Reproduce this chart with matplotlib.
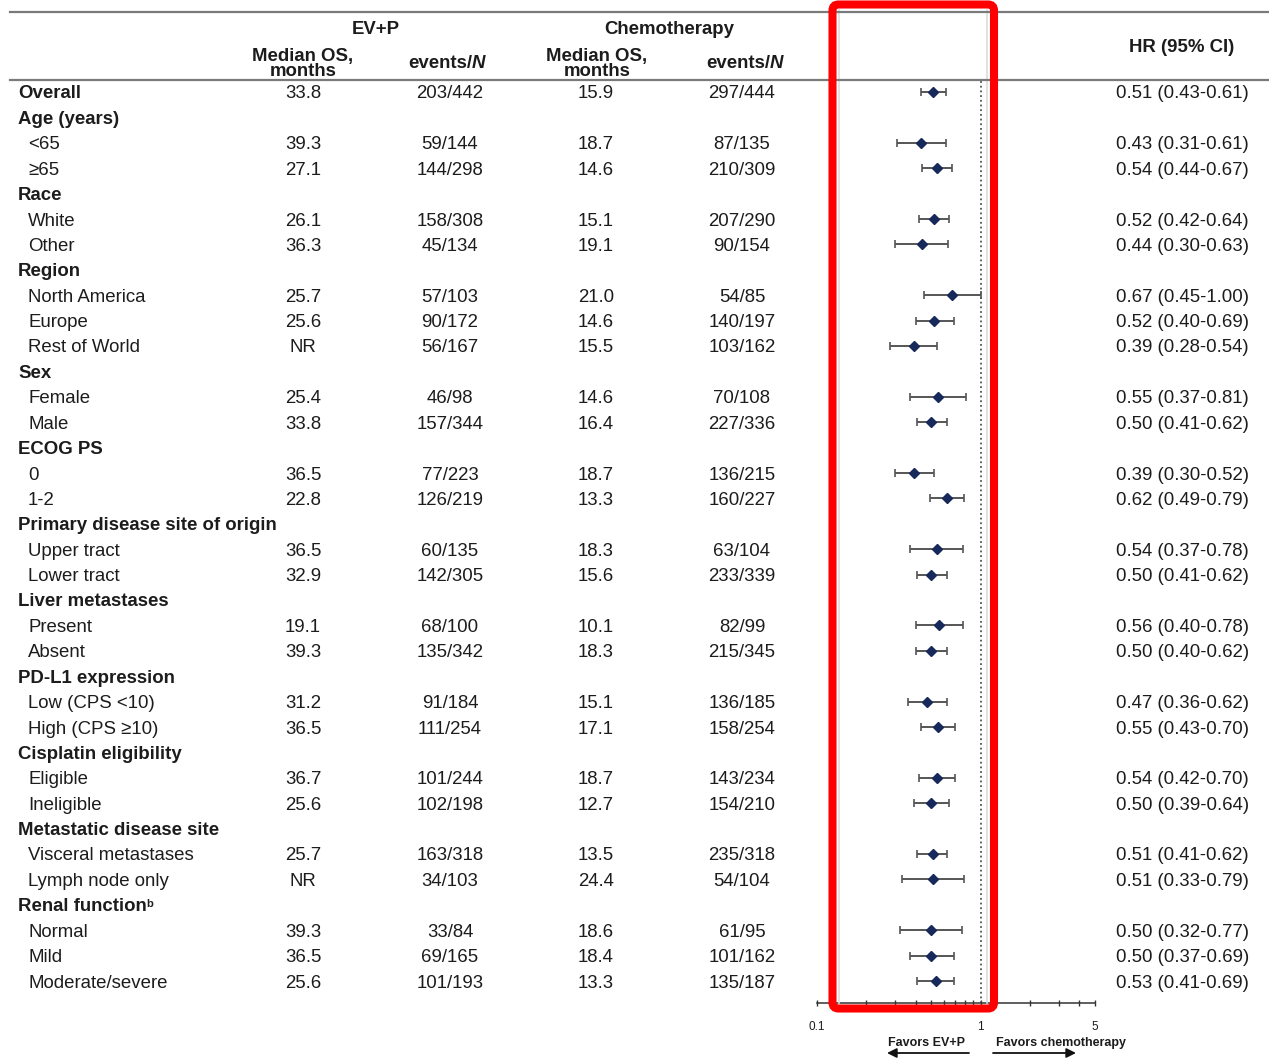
import matplotlib
import matplotlib.pyplot as plt
from matplotlib import ticker
from matplotlib.patches import FancyBboxPatch

matplotlib.use("Agg")

plt.rcParams["font.family"] = ["Liberation Sans", "DejaVu Sans"]

# subgroup rows, top to bottom
labels = [
    "Overall", "Age (years)", "<65", "≥65", "Race", "White", "Other",
    "Region", "North America", "Europe", "Rest of World", "Sex", "Female", "Male",
    "ECOG PS", "0", "1-2", "Primary disease site of origin", "Upper tract", "Lower tract",
    "Liver metastases", "Present", "Absent", "PD-L1 expression", "Low (CPS <10)",
    "High (CPS ≥10)", "Cisplatin eligibility", "Eligible", "Ineligible",
    "Metastatic disease site", "Visceral metastases", "Lymph node only",
    "Renal function", "Normal", "Mild", "Moderate/severe",
]
bold_rows = [0, 1, 4, 7, 11, 14, 17, 20, 23, 26, 29, 32]

evp_median = [
    "33.8", "", "39.3", "27.1", "", "26.1", "36.3", "", "25.7", "25.6", "NR", "",
    "25.4", "33.8", "", "36.5", "22.8", "", "36.5", "32.9", "", "19.1", "39.3", "",
    "31.2", "36.5", "", "36.7", "25.6", "", "25.7", "NR", "", "39.3", "36.5", "25.6",
]
evp_events = [
    "203/442", "", "59/144", "144/298", "", "158/308", "45/134", "", "57/103",
    "90/172", "56/167", "", "46/98", "157/344", "", "77/223", "126/219", "",
    "60/135", "142/305", "", "68/100", "135/342", "", "91/184", "111/254", "",
    "101/244", "102/198", "", "163/318", "34/103", "", "33/84", "69/165", "101/193",
]
chemo_median = [
    "15.9", "", "18.7", "14.6", "", "15.1", "19.1", "", "21.0", "14.6", "15.5", "",
    "14.6", "16.4", "", "18.7", "13.3", "", "18.3", "15.6", "", "10.1", "18.3", "",
    "15.1", "17.1", "", "18.7", "12.7", "", "13.5", "24.4", "", "18.6", "18.4", "13.3",
]
chemo_events = [
    "297/444", "", "87/135", "210/309", "", "207/290", "90/154", "", "54/85",
    "140/197", "103/162", "", "70/108", "227/336", "", "136/215", "160/227", "",
    "63/104", "233/339", "", "82/99", "215/345", "", "136/185", "158/254", "",
    "143/234", "154/210", "", "235/318", "54/104", "", "61/95", "101/162", "135/187",
]
hr = [
    0.51, None, 0.43, 0.54, None, 0.52, 0.44, None, 0.67, 0.52, 0.39, None,
    0.55, 0.50, None, 0.39, 0.62, None, 0.54, 0.50, None, 0.56, 0.50, None,
    0.47, 0.55, None, 0.54, 0.50, None, 0.51, 0.51, None, 0.50, 0.50, 0.53,
]
hr_lo = [
    0.43, None, 0.31, 0.44, None, 0.42, 0.30, None, 0.45, 0.40, 0.28, None,
    0.37, 0.41, None, 0.30, 0.49, None, 0.37, 0.41, None, 0.40, 0.40, None,
    0.36, 0.43, None, 0.42, 0.39, None, 0.41, 0.33, None, 0.32, 0.37, 0.41,
]
hr_hi = [
    0.61, None, 0.61, 0.67, None, 0.64, 0.63, None, 1.00, 0.69, 0.54, None,
    0.81, 0.62, None, 0.52, 0.79, None, 0.78, 0.62, None, 0.78, 0.62, None,
    0.62, 0.70, None, 0.70, 0.64, None, 0.62, 0.79, None, 0.77, 0.69, 0.69,
]

W, H = 1269, 1060
TXT = "#1c1c1c"
FS = 13.4

fig = plt.figure(figsize=(W / 100, H / 100), dpi=100)

# table layer in pixel coordinates
ax = fig.add_axes([0, 0, 1, 1])
ax.set_xlim(0, W)
ax.set_ylim(H, 0)
ax.axis("off")
ax.set_zorder(2)
ax.patch.set_visible(False)

row_y = [92 + 25.4 * i for i in range(len(labels))]
DY = 2  # text sits a touch lower than the marker row centre

# header
ax.plot([10, W], [12, 12], color="#7a7a7a", lw=1.6)
ax.plot([10, W], [80, 80], color="#7a7a7a", lw=1.6)
hdr = dict(fontsize=FS, fontweight="bold", color=TXT, va="center")
ax.text(376, 30, "EV+P", ha="center", **hdr)
ax.text(669, 30, "Chemotherapy", ha="center", **hdr)
for cx in (303, 597):
    ax.text(cx, 56, "Median OS,", ha="center", **hdr)
    ax.text(cx, 72, "months", ha="center", **hdr)
for split in (472, 770):
    ax.text(split, 63, "events/", ha="right", **hdr)
    ax.text(split, 63, "N", ha="left", fontstyle="italic", **hdr)
ax.text(1182, 48, "HR (95% CI)", ha="center", **hdr)

# rows
for i, y in enumerate(row_y):
    y = y + DY
    bold = i in bold_rows
    t = ax.text(18 if bold else 28, y, labels[i], ha="left", va="center",
                fontsize=FS, color=TXT, fontweight="bold" if bold else "normal")
    if labels[i] == "Renal function":
        ax.annotate("b", xy=(1, 0.95), xycoords=t, ha="left", va="top",
                    fontsize=8, fontweight="bold", color=TXT)
    ax.text(303, y, evp_median[i], ha="center", va="center", fontsize=FS, color=TXT)
    ax.text(450, y, evp_events[i], ha="center", va="center", fontsize=FS, color=TXT)
    ax.text(596, y, chemo_median[i], ha="center", va="center", fontsize=FS, color=TXT)
    ax.text(742, y, chemo_events[i], ha="center", va="center", fontsize=FS, color=TXT)
    if hr[i] is not None:
        ax.text(1249, y, f"{hr[i]:.2f} ({hr_lo[i]:.2f}-{hr_hi[i]:.2f})",
                ha="right", va="center", fontsize=FS, color=TXT)

# forest panel: 0.1 -> 817 px, 5 -> 1095 px, from the header rule down to y=1003
fx = fig.add_axes([817 / W, 1 - 1003 / H, (1095 - 817) / W, (1003 - 80) / H])
fx.set_zorder(1)
fx.set_xscale("log")
fx.set_xlim(0.1, 5)
fx.set_ylim(1003, 80)
for side in ("top", "left", "right"):
    fx.spines[side].set_visible(False)
fx.spines["bottom"].set_color("#333333")
fx.spines["bottom"].set_linewidth(1.1)
fx.set_yticks([])
fx.xaxis.set_major_locator(ticker.FixedLocator([0.1, 1, 5]))
fx.xaxis.set_major_formatter(ticker.FixedFormatter(["0.1", "1", "5"]))
fx.xaxis.set_minor_locator(ticker.FixedLocator([0.2, 0.3, 0.4, 0.5, 0.6, 0.7, 0.8, 0.9, 2, 3, 4]))
fx.xaxis.set_minor_formatter(ticker.NullFormatter())
fx.tick_params(axis="x", which="both", direction="inout", length=5, width=1,
               colors="#333333", labelsize=8.5, pad=10.5)
fx.tick_params(axis="x", labelcolor=TXT)

fx.axvline(1, color="#555555", lw=1.3, ls=(0, (1, 1.6)))

pts = [i for i, v in enumerate(hr) if v is not None]
xs = [hr[i] for i in pts]
ys = [row_y[i] for i in pts]
err = [[hr[i] - hr_lo[i] for i in pts], [hr_hi[i] - hr[i] for i in pts]]
fx.errorbar(xs, ys, xerr=err, fmt="D", color="#16295a", markersize=5.5,
            ecolor="#555555", elinewidth=1.4, capsize=2.6, capthick=1.2, zorder=3)

# direction labels under the axis
ax.text(927, 1043, "Favors EV+P", ha="center", va="center", fontsize=9,
        fontweight="bold", color=TXT)
ax.text(1061, 1043, "Favors chemotherapy", ha="center", va="center", fontsize=9,
        fontweight="bold", color=TXT)
arrow = dict(arrowstyle="-|>", color="#111111", lw=1.3, mutation_scale=14,
             shrinkA=0, shrinkB=0)
ax.annotate("", xy=(887, 1053), xytext=(969, 1053), arrowprops=arrow)
ax.annotate("", xy=(1076, 1053), xytext=(993, 1053), arrowprops=arrow)

# highlight frame around the plot column
for gx in (839, 987):
    ax.plot([gx, gx], [10, 1003], color="#dcdcdc", lw=1.2, zorder=1)
ax.add_patch(FancyBboxPatch((832.5, 4.5), 161.5, 1004,
                            boxstyle="round,pad=0,rounding_size=6",
                            fill=False, ec="#ff0000", lw=5.8, zorder=5))

fig.savefig("out.png", dpi=100, facecolor="white")
